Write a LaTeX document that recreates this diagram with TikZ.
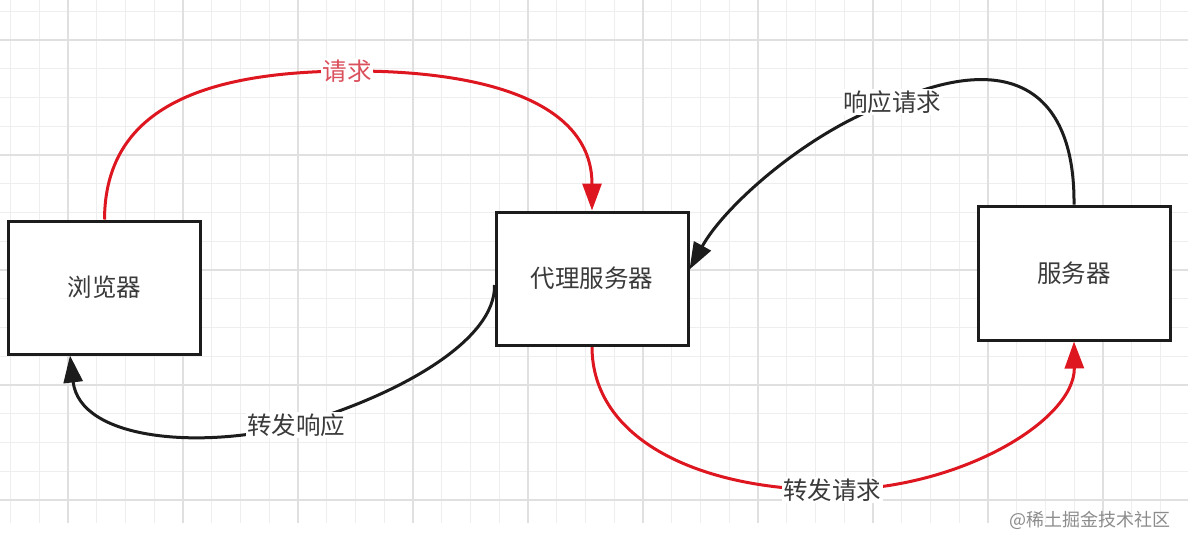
\documentclass[tikz,border=0pt]{standalone}
\usepackage{fontspec}
\newfontfamily\cjk{Noto Sans CJK SC}
\usetikzlibrary{arrows.meta}
\definecolor{gridminor}{RGB}{238,238,238}
\definecolor{gridmajor}{RGB}{224,224,224}
\definecolor{linered}{RGB}{222,22,32}
\definecolor{lineblack}{RGB}{28,28,28}
\definecolor{txtgray}{RGB}{58,58,58}
\definecolor{txtred}{RGB}{218,80,92}
\definecolor{wmgray}{RGB}{140,140,140}
\pgfdeclarelayer{bg}
\pgfdeclarelayer{edges}
\pgfsetlayers{bg,edges,main}
\tikzset{
  boxnode/.style={draw=lineblack, line width=3pt, fill=white, rectangle,
    minimum width=192pt, minimum height=133pt, inner sep=0pt,
    font=\cjk\fontsize{24.5}{28}\selectfont, text=txtgray},
  lbl/.style={fill=white, inner sep=1.5pt, font=\cjk\fontsize{24.5}{28}\selectfont, text=txtgray},
  redline/.style={draw=linered, line width=3pt, -{Triangle[length=27pt,width=19pt]}, linered},
  blackline/.style={draw=lineblack, line width=3pt, -{Triangle[length=27pt,width=19pt]}, lineblack},
  gminor/.style={draw=gridminor, line width=1pt},
  gmajor/.style={draw=gridmajor, line width=1.2pt}
}
\begin{document}
\begin{tikzpicture}[x=1pt,y=-1pt]
\useasboundingbox (0,0) rectangle (1188,547);
\begin{pgfonlayer}{bg}
  \fill[white] (0,0) rectangle (1188,547);
  \foreach \k in {-2,...,38} {
    \pgfmathsetmacro\xx{68+28.75*\k}
    \draw[gminor] (\xx,0) -- (\xx,523);
  }
  \foreach \k in {-1,...,16} {
    \pgfmathsetmacro\yy{40+28.75*\k}
    \draw[gminor] (0,\yy) -- (1188,\yy);
  }
  \foreach \m in {0,...,9} {
    \pgfmathsetmacro\xx{68+115*\m}
    \draw[gmajor] (\xx,0) -- (\xx,523);
  }
  \foreach \m in {0,...,4} {
    \pgfmathsetmacro\yy{40+115*\m}
    \draw[gmajor] (0,\yy) -- (1188,\yy);
  }
\end{pgfonlayer}

\node[boxnode] (browser) at (104.5,287.5) {浏览器};
\node[boxnode] (proxy) at (592,278.5) {代理服务器};
\node[boxnode, minimum height=134pt] (server) at (1074,273) {服务器};

\node[lbl, text=txtred] (lreq) at (347,71) {请求};
\node[lbl] (lresp) at (892,102) {响应请求};
\node[lbl] (lfwdresp) at (296,425) {转发响应};
\node[lbl] (lfwdreq) at (832,490) {转发请求};

\node[font=\cjk\fontsize{18}{22}\selectfont, text=wmgray, inner sep=0pt] (wm) at (1090,520) {@稀土掘金技术社区};

\begin{pgfonlayer}{edges}
  \draw[redline] (browser.north) .. controls (105,110) and (200,72) .. (lreq.center)
     .. controls (480,70) and (592,100) .. (proxy.north);
  \draw[blackline] (server.north) .. controls (1075,95) and (1015,48) .. (lresp.center)
     .. controls (810,130) and (725,205) .. ([yshift=9pt]proxy.east);
  \draw[blackline] ([yshift=-6.5pt]proxy.west) .. controls (496,340) and (400,395) .. (lfwdresp.center)
     .. controls (200,450) and (80,440) .. ([xshift=-34.5pt]browser.south);
  \draw[redline] (proxy.south) .. controls (592,440) and (700,490) .. (lfwdreq.center)
     .. controls (960,490) and (1075,420) .. (server.south);
\end{pgfonlayer}
\end{tikzpicture}
\end{document}
